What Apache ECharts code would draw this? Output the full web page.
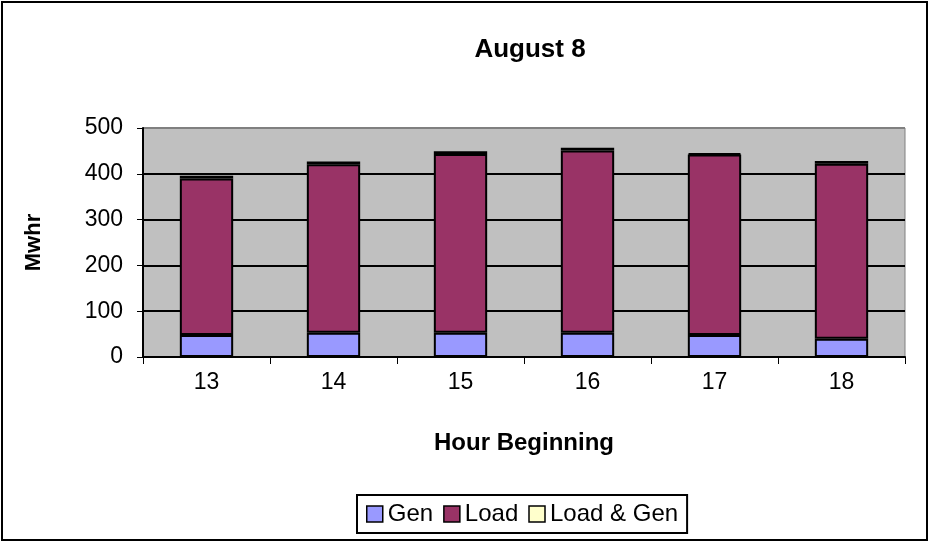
<!DOCTYPE html>
<html>
<head>
<meta charset="utf-8">
<script src="https://cdn.jsdelivr.net/npm/echarts@6/dist/echarts.min.js"></script>
<style>
html, body { margin: 0; padding: 0; background: #fff; }
#chart { width: 930px; height: 543px; }
</style>
</head>
<body>
<div id="chart"></div>
<script>
var hours = ['13', '14', '15', '16', '17', '18'];
var genValues = [48, 53, 53, 53, 48, 40];
var loadValues = [342, 368, 390, 398, 394, 382];
var loadGenValues = [6, 6, 6, 6, 3, 6];

var font = '"Liberation Sans", Arial, sans-serif';
var mainChart = echarts.init(document.getElementById('chart'));

function barSeries(name, data, color) {
	return {
		name: name,
		type: 'bar',
		stack: 'total',
		data: data,
		barWidth: '42%',
		itemStyle: {
			color: color,
			borderColor: '#000',
			borderWidth: 2
		}
	};
}

var chartOption = {
	backgroundColor: '#fff',
	animation: false,
	textStyle: { fontFamily: font },
	title: {
		text: 'August 8',
		left: 525,
		top: 32,
		textAlign: 'center',
		textStyle: { fontFamily: font, fontSize: 26, fontWeight: 'bold', color: '#000' }
	},
	graphic: [{
		type: 'rect',
		shape: { x: 2, y: 2, width: 925, height: 538 },
		style: { fill: 'none', stroke: '#000', lineWidth: 2 },
		silent: true
	}],
	legend: {
		bottom: 10,
		left: 357,
		data: ['Gen', 'Load', 'Load & Gen'],
		itemWidth: 16,
		itemHeight: 16,
		itemGap: 10,
		padding: [7, 9, 7, 9],
		borderColor: '#000',
		borderWidth: 2,
		icon: 'rect',
		itemStyle: { borderColor: '#000', borderWidth: 1.5 },
		textStyle: { fontFamily: font, fontSize: 24, color: '#000' }
	},
	grid: {
		left: 143,
		right: 25,
		top: 128,
		bottom: 186,
		show: true,
		backgroundColor: '#C0C0C0',
		borderColor: '#808080',
		borderWidth: 1
	},
	xAxis: {
		type: 'category',
		data: hours,
		name: 'Hour Beginning',
		nameLocation: 'middle',
		nameGap: 74,
		nameTextStyle: { fontFamily: font, fontSize: 24, fontWeight: 'bold', color: '#000' },
		axisLine: { lineStyle: { color: '#000', width: 2 } },
		axisTick: { show: true, length: 7, lineStyle: { color: '#000', width: 1 } },
		axisLabel: { fontFamily: font, fontSize: 23, color: '#000', margin: 14 },
		splitLine: { show: false }
	},
	yAxis: {
		type: 'value',
		min: 0,
		max: 500,
		interval: 100,
		name: 'Mwhr',
		nameLocation: 'middle',
		nameGap: 98,
		nameTextStyle: { fontFamily: font, fontSize: 22, fontWeight: 'bold', color: '#000' },
		axisLine: { show: true, lineStyle: { color: '#000', width: 2 } },
		axisTick: { show: true, length: 6, lineStyle: { color: '#000' } },
		axisLabel: { fontFamily: font, fontSize: 23, color: '#000', margin: 20 },
		splitLine: {
			lineStyle: {
				color: ['#000', '#000', '#000', '#000', '#000', '#808080'],
				width: 2
			}
		}
	},
	series: [
		barSeries('Gen', genValues, '#9999FF'),
		barSeries('Load', loadValues, '#993366'),
		barSeries('Load & Gen', loadGenValues, '#FFFFCC')
	]
};

mainChart.setOption(chartOption);
</script>
</body>
</html>
